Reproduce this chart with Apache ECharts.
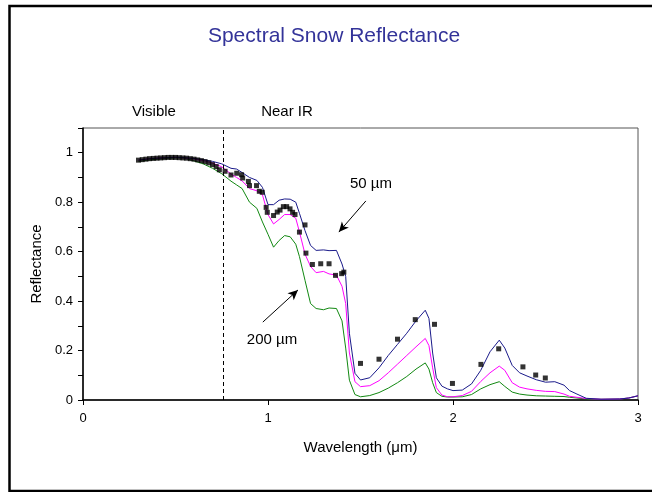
<!DOCTYPE html>
<html>
<head>
<meta charset="utf-8">
<script src="https://cdn.jsdelivr.net/npm/echarts@6/dist/echarts.min.js"></script>
<style>
html,body{margin:0;padding:0;background:#fff;}
#chart{width:652px;height:492px;}
</style>
</head>
<body>
<div id="chart"></div>
<script>
// ---- data ----
const wavelength = [0.30,0.35,0.40,0.45,0.50,0.55,0.60,0.65,0.70,0.75,0.80,0.83,0.86,0.90,0.94,0.97,1.00,1.03,1.06,1.09,1.12,1.15,1.17,1.20,1.23,1.26,1.30,1.33,1.37,1.40,1.42,1.44,1.47,1.50,1.55,1.60,1.65,1.70,1.75,1.80,1.85,1.87,1.89,1.91,1.94,1.97,2.00,2.05,2.10,2.15,2.20,2.25,2.28,2.32,2.36,2.40,2.45,2.50,2.55,2.60,2.63,2.67,2.72,2.80,2.90,2.95,3.00];
const reflect50um = [0.970,0.975,0.978,0.980,0.982,0.980,0.977,0.972,0.965,0.955,0.937,0.934,0.920,0.900,0.888,0.860,0.790,0.790,0.808,0.813,0.812,0.800,0.755,0.685,0.625,0.605,0.607,0.604,0.605,0.550,0.500,0.270,0.108,0.081,0.090,0.130,0.180,0.225,0.270,0.320,0.363,0.330,0.190,0.090,0.056,0.045,0.038,0.040,0.065,0.120,0.195,0.242,0.210,0.140,0.110,0.097,0.082,0.072,0.074,0.060,0.038,0.024,0.007,0.003,0.004,0.008,0.017];
const reflectMid = [0.970,0.975,0.978,0.980,0.981,0.979,0.975,0.968,0.958,0.943,0.914,0.900,0.886,0.855,0.846,0.830,0.750,0.712,0.730,0.750,0.750,0.735,0.680,0.590,0.540,0.515,0.520,0.510,0.505,0.460,0.390,0.190,0.074,0.054,0.058,0.078,0.110,0.145,0.180,0.215,0.249,0.220,0.130,0.050,0.020,0.013,0.013,0.018,0.035,0.075,0.110,0.137,0.120,0.070,0.052,0.045,0.039,0.035,0.034,0.024,0.015,0.011,0.006,0.003,0.004,0.008,0.017];
const reflect200um = [0.965,0.970,0.974,0.977,0.980,0.978,0.967,0.955,0.937,0.915,0.885,0.870,0.855,0.800,0.775,0.720,0.670,0.618,0.645,0.665,0.660,0.630,0.580,0.484,0.390,0.370,0.365,0.372,0.370,0.320,0.210,0.080,0.022,0.013,0.018,0.030,0.048,0.070,0.095,0.125,0.150,0.125,0.070,0.030,0.015,0.012,0.012,0.013,0.022,0.045,0.062,0.074,0.055,0.032,0.024,0.020,0.017,0.016,0.015,0.014,0.011,0.008,0.004,0.003,0.004,0.008,0.017];
const obsWavelength = [0.30,0.32,0.34,0.36,0.38,0.40,0.42,0.44,0.46,0.48,0.50,0.52,0.54,0.56,0.58,0.60,0.62,0.64,0.66,0.68,0.70,0.72,0.737,0.768,0.80,0.831,0.857,0.863,0.894,0.90,0.938,0.953,0.969,0.990,0.996,1.030,1.050,1.065,1.083,1.101,1.119,1.133,1.146,1.170,1.200,1.205,1.240,1.285,1.330,1.365,1.398,1.410,1.500,1.600,1.700,1.796,1.900,1.997,2.151,2.247,2.378,2.447,2.499];
const obsReflect = [0.970,0.972,0.974,0.976,0.977,0.978,0.979,0.980,0.981,0.981,0.981,0.980,0.979,0.978,0.976,0.974,0.971,0.968,0.964,0.959,0.952,0.944,0.931,0.925,0.910,0.917,0.911,0.898,0.884,0.867,0.867,0.844,0.840,0.779,0.759,0.746,0.760,0.768,0.782,0.782,0.773,0.759,0.750,0.679,0.708,0.594,0.548,0.551,0.551,0.504,0.511,0.517,0.148,0.165,0.246,0.325,0.306,0.067,0.144,0.207,0.134,0.101,0.089];
const visibleLimit = [0.76];
const arrow50 = [[1.529, 0.805], [1.383, 0.679]];
const arrow200 = [[0.972, 0.315], [1.162, 0.445]];

const pairs = (xs, ys) => xs.map((x, i) => [x, ys[i]]);
const FONT = "'Liberation Sans', Arial, sans-serif";

const chart = echarts.init(document.getElementById('chart'), null, {renderer: 'canvas'});
chart.setOption({
  animation: false,
  backgroundColor: '#fff',
  textStyle: {fontFamily: FONT},
  grid: {left: 83, right: 14, top: 128, bottom: 92, show: true, borderColor: '#555', borderWidth: 1},
  xAxis: {
    type: 'value', min: 0, max: 3, interval: 1,
    name: 'Wavelength (\u03bcm)', nameLocation: 'middle', nameGap: 40,
    nameTextStyle: {fontSize: 15, color: '#000', fontFamily: FONT},
    axisLine: {show: true, lineStyle: {color: '#000', width: 1.5}},
    axisTick: {show: true, length: 5, lineStyle: {color: '#000'}},
    axisLabel: {fontSize: 13, color: '#000', margin: 12, fontFamily: FONT},
    splitLine: {show: false}
  },
  yAxis: {
    type: 'value', min: 0, max: 1.1, interval: 0.1,
    name: 'Reflectance', nameLocation: 'middle', nameGap: 36,
    nameTextStyle: {fontSize: 15, color: '#000', fontFamily: FONT},
    axisLine: {show: true, lineStyle: {color: '#000', width: 1.5}},
    axisTick: {show: true, length: 5, lineStyle: {color: '#000'}},
    axisLabel: {
      fontSize: 13, color: '#000', margin: 10, fontFamily: FONT,
      formatter: v => { const k = Math.round(v * 10); return (k % 2 === 0 && k <= 10) ? String(k / 10) : ''; }
    },
    splitLine: {show: false}
  },
  series: [
    {type: 'line', name: '200 um', data: pairs(wavelength, reflect200um), showSymbol: false, lineStyle: {color: '#118811', width: 1}, z: 2},
    {type: 'line', name: 'mid', data: pairs(wavelength, reflectMid), showSymbol: false, lineStyle: {color: '#ff00ff', width: 1}, z: 3},
    {type: 'line', name: '50 um', data: pairs(wavelength, reflect50um), showSymbol: false, lineStyle: {color: '#1a1a8a', width: 1}, z: 4,
      markLine: {
        silent: true, symbol: ['none', 'none'], label: {show: false},
        lineStyle: {color: '#000', type: [4, 3], width: 1},
        data: visibleLimit.map(v => ({xAxis: v}))
      }
    },
    {type: 'scatter', name: 'obs', data: pairs(obsWavelength, obsReflect), symbol: 'rect', symbolSize: 5, itemStyle: {color: '#000'}, z: 5,
      markLine: {
        silent: true, symbol: ['none', 'arrow'], symbolSize: [7, 10], label: {show: false},
        lineStyle: {color: '#000', type: 'solid', width: 1},
        data: [
          [{coord: arrow50[0]}, {coord: arrow50[1]}],
          [{coord: arrow200[0]}, {coord: arrow200[1]}]
        ]
      }
    }
  ],
  graphic: [
    {type: 'rect', shape: {x: 9.5, y: 6, width: 660, height: 485}, style: {fill: 'none', stroke: '#000', lineWidth: 2.5}, silent: true},
    {type: 'text', x: 334, y: 36, style: {text: 'Spectral Snow Reflectance', fill: '#333399', font: "21px 'Liberation Sans', Arial, sans-serif", textAlign: 'center', textVerticalAlign: 'middle'}},
    {type: 'text', x: 154, y: 112, style: {text: 'Visible', fill: '#000', font: "15px 'Liberation Sans', Arial, sans-serif", textAlign: 'center', textVerticalAlign: 'middle'}},
    {type: 'text', x: 287, y: 112, style: {text: 'Near IR', fill: '#000', font: "15px 'Liberation Sans', Arial, sans-serif", textAlign: 'center', textVerticalAlign: 'middle'}},
    {type: 'text', x: 371, y: 184, style: {text: '50 \u00b5m', fill: '#000', font: "15px 'Liberation Sans', Arial, sans-serif", textAlign: 'center', textVerticalAlign: 'middle'}},
    {type: 'text', x: 272, y: 340, style: {text: '200 \u00b5m', fill: '#000', font: "15px 'Liberation Sans', Arial, sans-serif", textAlign: 'center', textVerticalAlign: 'middle'}}
  ]
});
</script>
</body>
</html>
